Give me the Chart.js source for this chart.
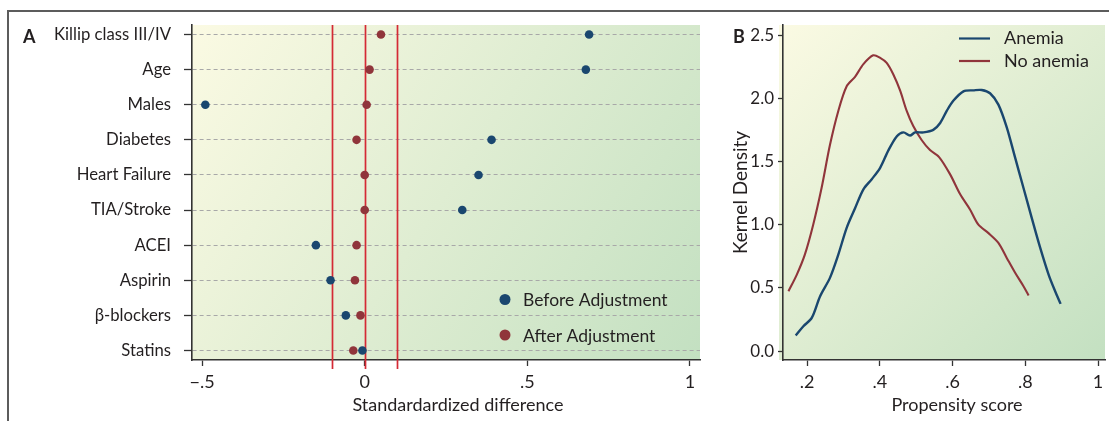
<!DOCTYPE html>
<html><head><meta charset="utf-8">
<script src="https://cdn.jsdelivr.net/npm/chart.js@4.4.0/dist/chart.umd.min.js"></script>
<style>
html,body{margin:0;padding:0;background:#fff;}
#wrap{position:relative;width:1109px;height:421px;overflow:hidden;background:#fff;}
#frame{position:absolute;left:7px;top:10px;right:-5px;bottom:-5px;border-top:2px solid #5c5c5c;border-left:2px solid #5c5c5c;}
#ca{position:absolute;left:0;top:0;}
#cb{position:absolute;left:712px;top:0;}
</style></head><body>
<div id="wrap"><div id="frame"></div>
<canvas id="ca" width="712" height="421"></canvas>
<canvas id="cb" width="397" height="421"></canvas>
</div>
<script>
// ---------- Panel A data ----------
const covariates = ['Killip class III/IV','Age','Males','Diabetes','Heart Failure','TIA/Stroke','ACEI','Aspirin','\u03B2-blockers','Statins'];
const beforeAdjustment = [0.69, 0.68, -0.49, 0.39, 0.35, 0.30, -0.15, -0.105, -0.058, -0.007];
const afterAdjustment  = [0.05, 0.015, 0.006, -0.025, 0.0, 0.0, -0.025, -0.03, -0.013, -0.035];
const referenceLines = [-0.1, 0, 0.1];
const diffTicks = [-0.5, 0, 0.5, 1];
const diffTickLabels = ['\u2212.5', '0', '.5', '1'];

// ---------- Panel B data ----------
const anemiaX = [0.169,0.19,0.213,0.236,0.263,0.286,0.309,0.332,0.355,0.378,0.401,0.424,0.447,0.465,0.483,0.497,0.52,0.547,0.566,0.584,0.602,0.63,0.657,0.68,0.703,0.726,0.749,0.772,0.795,0.818,0.841,0.864,0.882,0.897];
const anemiaY = [0.123,0.196,0.262,0.434,0.579,0.763,0.975,1.13,1.28,1.36,1.45,1.59,1.70,1.73,1.705,1.73,1.73,1.75,1.805,1.90,1.98,2.055,2.063,2.066,2.04,1.95,1.77,1.53,1.29,1.05,0.816,0.605,0.473,0.373];
const noAnemiaX = [0.149,0.172,0.194,0.217,0.240,0.263,0.286,0.309,0.332,0.355,0.382,0.401,0.419,0.437,0.456,0.474,0.492,0.515,0.538,0.563,0.593,0.621,0.648,0.671,0.698,0.726,0.749,0.772,0.795,0.809];
const noAnemiaY = [0.473,0.605,0.763,1.0,1.29,1.63,1.90,2.095,2.17,2.27,2.34,2.32,2.28,2.19,2.06,1.90,1.78,1.67,1.59,1.535,1.40,1.24,1.12,1.00,0.935,0.856,0.737,0.619,0.513,0.44];
const scoreTicks = [0.2, 0.4, 0.6, 0.8, 1];
const scoreTickLabels = ['.2', '.4', '.6', '.8', '1'];
const densityTicks = [0, 0.5, 1, 1.5, 2, 2.5];
const densityTickLabels = ['0.0', '0.5', '1.0', '1.5', '2.0', '2.5'];

const NAVY = '#1a476f', MAROON = '#90353b', REDLINE = '#d42a35', TXT = '#231f20', AX = '#333333';
const FONT = 'Lato';
Chart.defaults.font.family = FONT;
Chart.defaults.color = TXT;

function bgPlugin(extLeft) {
  return {
    id: 'bg' + extLeft,
    beforeDraw(chart) {
      const a = chart.chartArea, c = chart.ctx;
      const x0 = a.left - extLeft;
      const g = c.createLinearGradient(x0, a.top, a.right, a.bottom);
      g.addColorStop(0, '#fbfae3');
      g.addColorStop(1, '#c3e0c1');
      c.save(); c.fillStyle = g; c.fillRect(x0, a.top, a.right - x0, a.bottom - a.top); c.restore();
    }
  };
}

// ---------- Chart A ----------
const ptsBefore = beforeAdjustment.map((v, i) => ({x: v, y: covariates.length - i}));
const ptsAfter = afterAdjustment.map((v, i) => ({x: v, y: covariates.length - i}));

const refLinePlugin = {
  id: 'refLines',
  beforeDatasetsDraw(chart) {
    const c = chart.ctx, a = chart.chartArea, sx = chart.scales.x;
    c.save(); c.strokeStyle = REDLINE; c.lineWidth = 1.7;
    referenceLines.forEach(v => {
      const x = Math.round(sx.getPixelForValue(v)) + 0.5;
      c.beginPath(); c.moveTo(x, a.top); c.lineTo(x, a.bottom + 9); c.stroke();
    });
    c.restore();
  }
};
const textA = {
  id: 'textA',
  afterDraw(chart) {
    const c = chart.ctx;
    c.save();
    c.fillStyle = TXT; c.textBaseline = 'middle';
    c.font = 'bold 18px ' + FONT; c.textAlign = 'left';
    c.fillText('A', 23, 37);
    c.font = '18px ' + FONT; c.textAlign = 'center';
    c.fillText('Standardardized difference', 458, 405);
    // legend
    c.textAlign = 'left';
    c.fillStyle = NAVY; c.beginPath(); c.arc(505, 299.5, 5.5, 0, Math.PI * 2); c.fill();
    c.fillStyle = MAROON; c.beginPath(); c.arc(505, 335, 5.5, 0, Math.PI * 2); c.fill();
    c.fillStyle = TXT;
    c.font = '17.5px ' + FONT;
    c.fillText('Before Adjustment', 523, 300);
    c.fillText('After Adjustment', 523, 336);
    c.restore();
  }
};

new Chart(document.getElementById('ca'), {
  type: 'scatter',
  data: {
    datasets: [
      {label: 'Before Adjustment', data: ptsBefore, backgroundColor: NAVY, pointRadius: 4.3, pointBorderWidth: 0, pointHoverRadius: 4.3},
      {label: 'After Adjustment', data: ptsAfter, backgroundColor: MAROON, pointRadius: 4.3, pointBorderWidth: 0, pointHoverRadius: 4.3}
    ]
  },
  options: {
    responsive: false, animation: false, devicePixelRatio: 1,
    layout: {padding: {left: 0, right: 12, top: 25, bottom: 0}},
    plugins: {legend: {display: false}, tooltip: {enabled: false}},
    scales: {
      x: {
        type: 'linear', min: -0.531, max: 1.031,
        afterFit(s) { s.height = 61; },
        afterBuildTicks(s) { s.ticks = diffTicks.map(v => ({value: v})); },
        ticks: {autoSkip: false, maxRotation: 0, padding: 5, font: {size: 18}, color: TXT,
          callback: (v) => diffTickLabels[diffTicks.indexOf(v)]},
        grid: {drawOnChartArea: false, drawTicks: true, tickLength: 6, tickColor: AX, tickWidth: 1.3},
        border: {display: true, color: AX, width: 1.6}
      },
      y: {
        type: 'linear', min: 0.73, max: 10.27,
        afterFit(s) { s.width = 192; },
        afterBuildTicks(s) { s.ticks = covariates.map((c, i) => ({value: covariates.length - i})); },
        ticks: {autoSkip: false, padding: 13, font: {size: 16.7}, color: TXT,
          callback: (v) => covariates[covariates.length - v]},
        grid: {drawOnChartArea: true, color: '#a8a8a8', lineWidth: 1, drawTicks: true, tickLength: 8, tickColor: AX, tickWidth: 1.3},
        border: {display: true, color: AX, width: 1.6, dash: [4, 3]}
      }
    }
  },
  plugins: [bgPlugin(0), refLinePlugin, textA]
});

// ---------- Chart B ----------
const textB = {
  id: 'textB',
  afterDraw(chart) {
    const c = chart.ctx;
    c.save();
    c.fillStyle = TXT; c.textBaseline = 'middle';
    c.font = 'bold 18px ' + FONT; c.textAlign = 'left';
    c.fillText('B', 21, 37);
    c.font = '18px ' + FONT; c.textAlign = 'center';
    c.fillText('Propensity score', 245, 405);
    // legend
    c.lineWidth = 2.2;
    c.strokeStyle = NAVY; c.beginPath(); c.moveTo(247, 38.5); c.lineTo(278, 38.5); c.stroke();
    c.strokeStyle = MAROON; c.beginPath(); c.moveTo(247, 61); c.lineTo(278, 61); c.stroke();
    c.textAlign = 'left'; c.fillStyle = TXT;
    c.fillText('Anemia', 292, 38);
    c.fillText('No anemia', 292, 61);
    c.restore();
  }
};

new Chart(document.getElementById('cb'), {
  type: 'scatter',
  data: {
    datasets: [
      {label: 'Anemia', data: anemiaX.map((x, i) => ({x, y: anemiaY[i]})), showLine: true, borderColor: NAVY, borderWidth: 2.4, pointRadius: 0, tension: 0.3, fill: false},
      {label: 'No anemia', data: noAnemiaX.map((x, i) => ({x, y: noAnemiaY[i]})), showLine: true, borderColor: MAROON, borderWidth: 2.1, pointRadius: 0, tension: 0.3, fill: false}
    ]
  },
  options: {
    responsive: false, animation: false, devicePixelRatio: 1,
    layout: {padding: {left: 0, right: 4, top: 25, bottom: 0}},
    plugins: {legend: {display: false}, tooltip: {enabled: false}},
    scales: {
      x: {
        type: 'linear', min: 0.134, max: 1.019,
        afterFit(s) { s.height = 61; },
        afterBuildTicks(s) { s.ticks = scoreTicks.map(v => ({value: v})); },
        ticks: {autoSkip: false, maxRotation: 0, padding: 5, font: {size: 18}, color: TXT,
          callback: (v) => scoreTickLabels[scoreTicks.indexOf(v)]},
        grid: {drawOnChartArea: false, drawTicks: true, tickLength: 6, tickColor: AX, tickWidth: 1.3},
        border: {display: true, color: AX, width: 1.6}
      },
      y: {
        type: 'linear', min: -0.071, max: 2.58,
        afterFit(s) { s.width = 71; },
        afterBuildTicks(s) { s.ticks = densityTicks.map(v => ({value: v})); },
        title: {display: true, text: 'Kernel Density', font: {size: 19}, color: TXT, padding: {top: 17, bottom: 0}},
        ticks: {autoSkip: false, padding: 4, font: {size: 17}, color: TXT,
          callback: (v) => densityTickLabels[densityTicks.indexOf(v)]},
        grid: {drawOnChartArea: false, drawTicks: true, tickLength: 5, tickColor: AX, tickWidth: 1.3},
        border: {display: true, color: AX, width: 1.6}
      }
    }
  },
  plugins: [bgPlugin(4), textB]
});
</script>
</body></html>
